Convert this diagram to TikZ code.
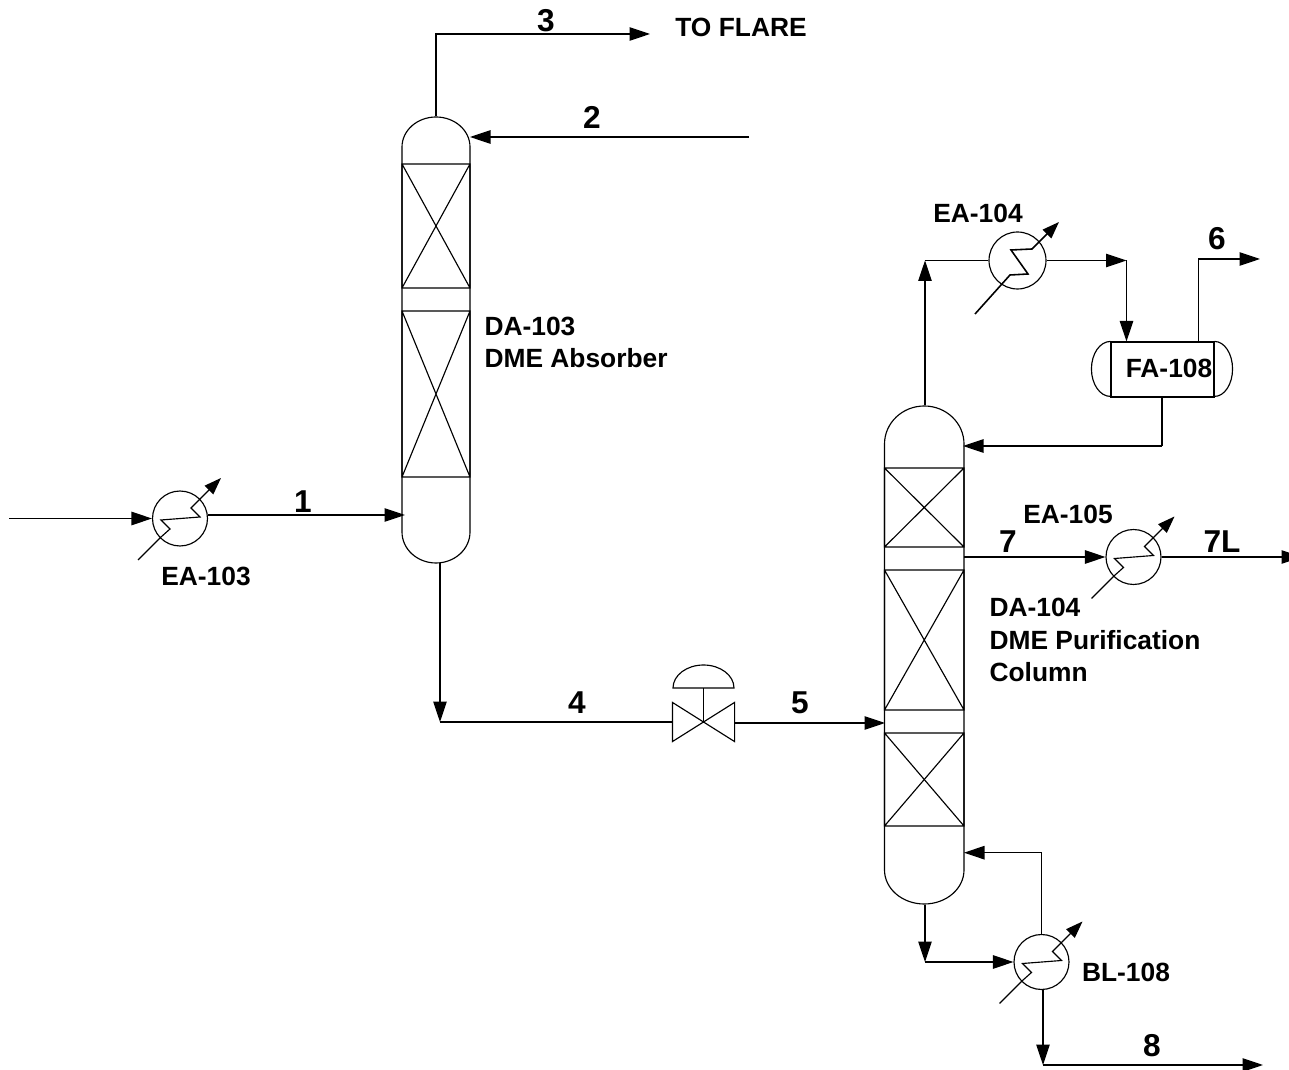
\documentclass[tikz,border=0pt]{standalone}
\usepackage{fontspec}
\setmainfont{Liberation Sans}
\usetikzlibrary{positioning,arrows.meta}

\begin{document}
\begin{tikzpicture}[
x=0.02cm,y=-0.02cm,line width=0.65pt,
hx/.style={circle,draw,inner sep=0pt,minimum size=1.1cm},
shell/.style={rectangle,inner sep=0pt},
tag/.style={font=\fontsize{15}{18.7}\selectfont\bfseries,inner sep=0pt,align=left},
num/.style={font=\fontsize{18}{20}\selectfont\bfseries,inner sep=0pt},
arrow/.style={-{Triangle[length=0.41cm,width=0.27cm]}},
coil/.style={-{Triangle[length=0.34cm,width=0.24cm]}}
]
\useasboundingbox (0,0) rectangle (1289,1070);

% vessels
\node[shell,minimum width=1.36cm,minimum height=8.92cm] (absorber) at (436,340) {};
\node[shell,minimum width=1.59cm,minimum height=9.98cm] (purifier) at (924.5,655) {};
\node[shell,draw,minimum width=2.06cm,minimum height=1.1cm] (drum) at (1162.5,369.5) {};
\draw (402,147) arc[start angle=180,end angle=360,x radius=34,y radius=30] -- (470,532)
  arc[start angle=0,end angle=180,x radius=34,y radius=31] -- cycle;
\draw (884.5,444) arc[start angle=180,end angle=360,x radius=39.75,y radius=38] -- (964,870)
  arc[start angle=0,end angle=180,x radius=39.75,y radius=34] -- cycle;
\draw (drum.north west) arc[start angle=270,end angle=90,x radius=19,y radius=27.5];
\draw (drum.north east) arc[start angle=-90,end angle=90,x radius=18,y radius=27.5];
\foreach \ya/\yb in {164/288,311/477}
  \draw (402,\ya) rectangle (470,\yb) (402,\ya) -- (470,\yb) (470,\ya) -- (402,\yb);
\foreach \ya/\yb in {468/547,570/710,733/826}
  \draw (884.5,\ya) rectangle (964,\yb) (884.5,\ya) -- (964,\yb) (964,\ya) -- (884.5,\yb);

% exchangers
\node[hx] (hxa) at (180,518.5) {};
\node[hx] (hxb) at (1133.5,557) {};
\node[hx] (hxc) at (1041.5,962) {};
\node[hx,minimum size=1.14cm] (hxd) at (1017.5,260.5) {};
\foreach \hxname in {hxa,hxb,hxc}
  \draw[coil,shift={(\hxname.center)}] (-42,41.5) -- (-19,18.5) -- (-10,10.5) -- (-19,1.5)
    -- (20,-1.5) -- (11,-10.5) -- (41,-40.5);
\draw[coil,line width=0.9pt,shift={(hxd.center)}] (-42.5,53.5) -- (-7.5,14.5) -- (10.5,13.5)
  -- (-6.5,-10.5) -- (14.5,-11.5) -- (41.5,-38.5);

% valve
\node[shell,minimum width=1.22cm,minimum height=0.76cm] (valve) at (703.5,722) {};
\draw (valve.north west) -- (valve.south east) -- (valve.north east) -- (valve.south west) -- cycle;
\draw (valve.center) -- (703.5,688);
\draw (673,688) arc[start angle=180,end angle=360,x radius=30.5,y radius=23] -- cycle;

% end points
\coordinate (feed) at (9,518.5);
\coordinate (flare) at (650,34);
\coordinate (solvent) at (749,137);
\coordinate (solventin) at (470,137);
\coordinate (gasin) at (405,515);
\coordinate (abottom) at (440,563);
\coordinate (acorner) at (440,722);
\coordinate (pfeed) at (885,723);
\coordinate (ptop) at (925,260.5);
\coordinate (hxdout) at (1126.5,260.5);
\coordinate (vent) at (1260,259);
\coordinate (vapour) at (1198.7,259);
\coordinate (reflux) at (1162,446);
\coordinate (refluxin) at (963,446);
\coordinate (sidedraw) at (964,557);
\coordinate (side) at (1302,557);
\coordinate (bottoms) at (925,962);
\coordinate (boilup) at (1041.5,852.7);
\coordinate (boilupin) at (964,852.7);
\coordinate (product) at (1043,1065);
\coordinate (productout) at (1263,1065);

% streams
\draw[arrow] (feed) -- (hxa.west);
\draw[arrow] (hxa.east |- gasin) -- (gasin);
\draw[arrow] (absorber.north) |- (flare);
\draw[arrow] (solvent) -- (solventin);
\draw[arrow] (abottom) -- (acorner);
\draw (acorner) -- (valve.west);
\draw[arrow] (valve.east |- pfeed) -- (pfeed);
\draw[arrow] (ptop |- purifier.north) -- (ptop);
\draw (ptop) -- (hxd.west);
\draw[arrow] (hxd.east) -- (hxdout);
\draw[arrow] (hxdout) -- (hxdout |- drum.north);
\draw[arrow] (vapour |- drum.north) |- (vent);
\draw (reflux |- drum.south) -- (reflux);
\draw[arrow] (reflux) -- (refluxin);
\draw[arrow] (sidedraw) -- (hxb.west);
\draw[arrow] (hxb.east) -- (side);
\draw[arrow] (bottoms |- purifier.south) -- (bottoms);
\draw[arrow] (bottoms) -- (hxc.west);
\draw (hxc.north) -- (boilup);
\draw[arrow] (boilup) -- (boilupin);
\draw[arrow] (hxc.south -| product) -- (product);
\draw[arrow] (product) -- (productout);

% labels
\node[num] (s1) at (303,502) {1};
\node[num] (s2) at (592,117) {2};
\node[num] (s3) at (546,21) {3};
\node[num] (s4) at (577,703) {4};
\node[num] (s5) at (800,703) {5};
\node[num] (s6) at (1217,239) {6};
\node[num] (s7) at (1008,542) {7};
\node[num] (s7l) at (1222,542) {7L};
\node[num] (s8) at (1152,1046) {8};
\node[tag] (flarelabel) at (741,27) {TO FLARE};
\node[tag] (ea103) at (206,576) {EA-103};
\node[tag] (ea104) at (978,213) {EA-104};
\node[tag] (ea105) at (1068,514) {EA-105};
\node[tag] (bl108) at (1126,972) {BL-108};
\node[tag] (fa108) at (1169,368) {FA-108};
\node[tag,anchor=west] (da103) at (484,342.5) {DA-103\\DME Absorber};
\node[tag,anchor=west] (da104) at (989,640) {DA-104\\DME Purification\\Column};
\end{tikzpicture}
\end{document}
